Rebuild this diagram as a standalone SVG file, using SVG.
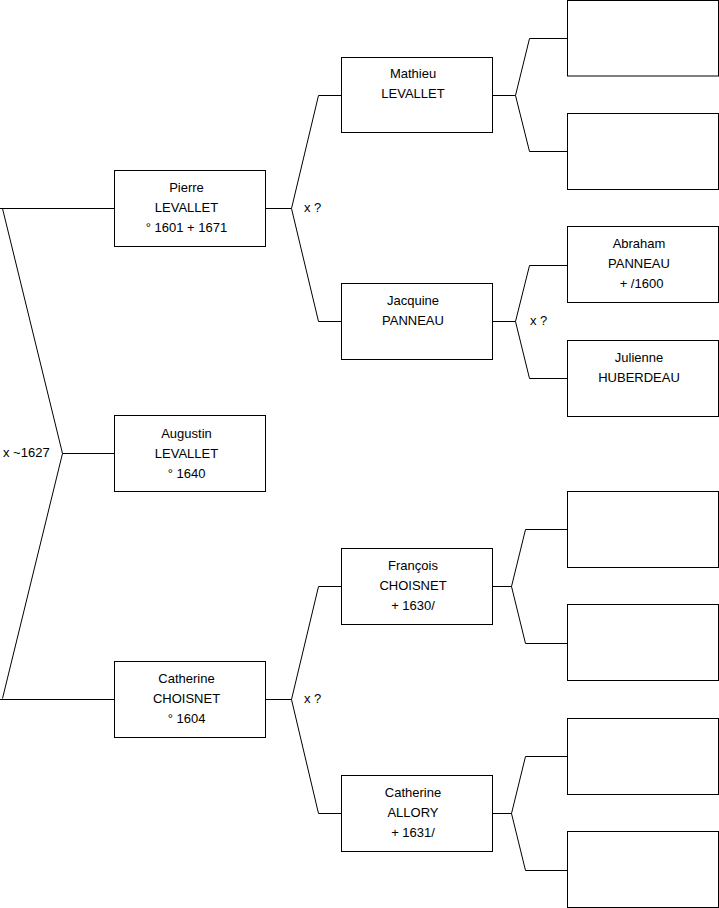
<svg xmlns="http://www.w3.org/2000/svg" width="719" height="908" viewBox="0 0 719 908">
<style>
.box{fill:#fff;stroke:#000;stroke-width:1}
.c{fill:none;stroke:#000;stroke-width:1}
text{font-family:"Liberation Sans",Arial,sans-serif;font-size:13px;fill:#000}
.m{text-anchor:middle}
</style>
<rect width="719" height="908" fill="#fff"/>
<g id="connectors">
<path class="c" d="M0,208.5 H114.5 M2.5,208.5 L62.5,453.5 L2.5,698.5 M0,699.5 H114.5 M62.5,453.5 H114.5"/>
<path class="c" d="M265.5,208.5 H291.5 M318.5,95.5 L291.5,208.5 L318.5,321.5 M318.5,95.5 H341.5 M318.5,321.5 H341.5"/>
<path class="c" d="M265.5,699.5 H291.5 M318.5,586.5 L291.5,699.5 L318.5,813.5 M318.5,586.5 H341.5 M318.5,813.5 H341.5"/>
<path class="c" d="M492.5,95.5 H515.5 M529.5,38.5 L515.5,95.5 L529.5,151.5 M529.5,38.5 H567.5 M529.5,151.5 H567.5"/>
<path class="c" d="M492.5,321.5 H515.5 M529.5,265.5 L515.5,321.5 L529.5,378.5 M529.5,265.5 H567.5 M529.5,378.5 H567.5"/>
<path class="c" d="M492.5,586.5 H511.5 M525.5,529.5 L511.5,586.5 L525.5,643.5 M525.5,529.5 H567.5 M525.5,643.5 H567.5"/>
<path class="c" d="M492.5,813.5 H511.5 M525.5,756.5 L511.5,813.5 L525.5,870.5 M525.5,756.5 H567.5 M525.5,870.5 H567.5"/>
<text x="304" y="212">x ?</text>
<text x="3" y="457">x ~1627</text>
<text x="530" y="325">x ?</text>
<text x="304" y="703">x ?</text>
</g>
<g id="pierre"><rect class="box" x="114.5" y="170.5" width="151" height="76"/>
<text class="m" x="186.5" y="191.5">Pierre</text><text class="m" x="186.5" y="211.5">LEVALLET</text><text class="m" x="186.5" y="231.5">° 1601 + 1671</text></g>
<g id="augustin"><rect class="box" x="114.5" y="415.5" width="151" height="76"/>
<text class="m" x="186.5" y="437.5">Augustin</text><text class="m" x="186.5" y="457.5">LEVALLET</text><text class="m" x="186.5" y="477.5">° 1640</text></g>
<g id="catherine-choisnet"><rect class="box" x="114.5" y="661.5" width="151" height="76"/>
<text class="m" x="186.5" y="682.5">Catherine</text><text class="m" x="186.5" y="702.5">CHOISNET</text><text class="m" x="186.5" y="722.5">° 1604</text></g>
<g id="mathieu"><rect class="box" x="341.5" y="57.5" width="151" height="75"/>
<text class="m" x="413" y="78">Mathieu</text><text class="m" x="413" y="98">LEVALLET</text></g>
<g id="jacquine"><rect class="box" x="341.5" y="283.5" width="151" height="76"/>
<text class="m" x="413" y="304.5">Jacquine</text><text class="m" x="413" y="324.5">PANNEAU</text></g>
<g id="francois"><rect class="box" x="341.5" y="548.5" width="151" height="76"/>
<text class="m" x="413" y="569.5">François</text><text class="m" x="413" y="589.5">CHOISNET</text><text class="m" x="413" y="609.5">+ 1630/</text></g>
<g id="catherine-allory"><rect class="box" x="341.5" y="775.5" width="151" height="76"/>
<text class="m" x="413" y="796.5">Catherine</text><text class="m" x="413" y="816.5">ALLORY</text><text class="m" x="413" y="836.5">+ 1631/</text></g>
<g id="r1"><rect class="box" x="567.5" y="0.5" width="151" height="75.5"/></g>
<g id="r2"><rect class="box" x="567.5" y="113.5" width="151" height="76"/></g>
<g id="abraham"><rect class="box" x="567.5" y="226.5" width="151" height="76"/>
<text class="m" x="639" y="247.5">Abraham</text><text class="m" x="639" y="267.5">PANNEAU</text><text class="m" x="641.5" y="287.5">+ /1600</text></g>
<g id="julienne"><rect class="box" x="567.5" y="340.5" width="151" height="76"/>
<text class="m" x="639" y="361.5">Julienne</text><text class="m" x="639" y="381.5">HUBERDEAU</text></g>
<g id="r5"><rect class="box" x="567.5" y="491.5" width="151" height="76"/></g>
<g id="r6"><rect class="box" x="567.5" y="604.5" width="151" height="76"/></g>
<g id="r7"><rect class="box" x="567.5" y="718.5" width="151" height="76"/></g>
<g id="r8"><rect class="box" x="567.5" y="831.5" width="151" height="76"/></g>
</svg>
